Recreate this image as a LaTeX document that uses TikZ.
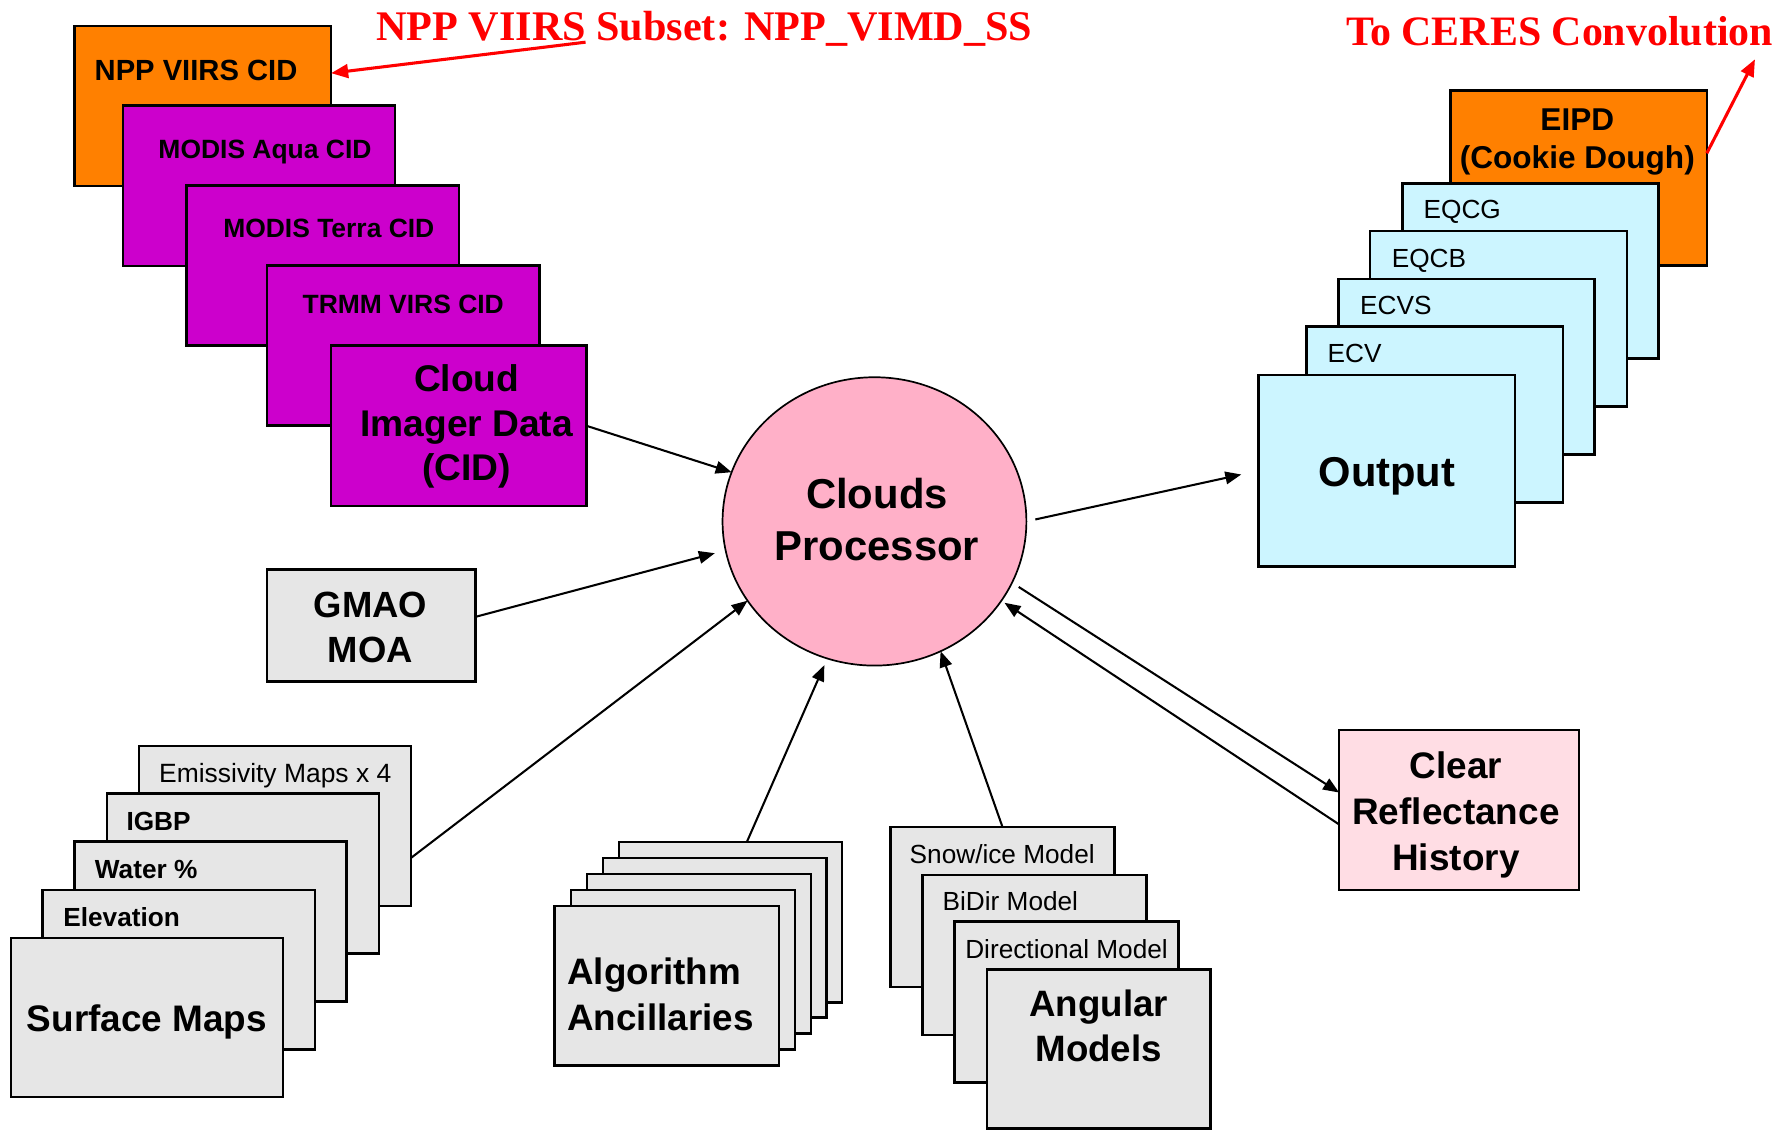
\documentclass[tikz,border=0pt]{standalone}
\usepackage{fontspec}
\setmainfont{Liberation Sans}
\newfontfamily\redserif{Liberation Serif}
\usetikzlibrary{arrows.meta,shapes.geometric}
\definecolor{cOrange}{HTML}{FF8000}
\definecolor{cMagenta}{HTML}{CC00CC}
\definecolor{cGrey}{HTML}{E6E6E6}
\definecolor{cCyan}{HTML}{CCF5FF}
\definecolor{cPink}{HTML}{FFB0C8}
\definecolor{cLightPink}{HTML}{FFDDE4}
\newcommand\fsz[2]{\fontsize{#1}{#2}\selectfont}
\newcommand\boxnode[6]{\node[box, fill=#2, minimum width=#5pt, minimum height=#6pt] (#1) at (#3,#4) {};}
\begin{document}
\begin{tikzpicture}[x=1pt, y=-1pt,
  box/.style={draw, line width=2.2pt, inner sep=0pt, outer sep=0pt, anchor=north west},
  small/.style={inner sep=0pt, anchor=base west, font=\fsz{23}{27.6}},
  smallbold/.style={inner sep=0pt, anchor=base west, font=\fsz{23}{27.6}\bfseries},
  cidlbl/.style={inner sep=0pt, anchor=base, font=\fsz{23.2}{28}\bfseries},
  biglbl/.style={inner sep=0pt, align=center, font=\bfseries},
  redlbl/.style={inner sep=0pt, anchor=base west, text=red, font=\redserif\fsz{37}{44}\bfseries},
  arr/.style={-{Triangle[length=14pt,width=11pt]}, line width=1.8pt},
  redarr/.style={-{Triangle[length=15pt,width=12pt]}, line width=2.7pt, red}
]
\useasboundingbox (0,0) rectangle (1568,991.5);

% ---- CID stack ----
\boxnode{npp}{cOrange}{65.5}{22.6}{225}{140.7}
\node[cidlbl, font=\fsz{25.6}{30}\bfseries] (nppT) at (172,70.2) {NPP VIIRS CID};
\boxnode{aqua}{cMagenta}{107.8}{92.7}{238.7}{140.7}
\node[cidlbl] (aquaT) at (232.5,138.8) {MODIS Aqua CID};
\boxnode{terra}{cMagenta}{163.7}{162.9}{239.2}{140.4}
\node[cidlbl] (terraT) at (288.5,208.8) {MODIS Terra CID};
\boxnode{trmm}{cMagenta}{234.2}{233.1}{239.2}{140.4}
\node[cidlbl] (trmmT) at (353.8,275.3) {TRMM VIRS CID};
\boxnode{cid}{cMagenta}{290.6}{303.3}{224.1}{140.7}
\node[biglbl, font=\fsz{32.6}{39}\bfseries] (cidT) at (409.5,374.2) {Cloud\\Imager Data\\(CID)};

% ---- GMAO ----
\boxnode{gmao}{cGrey}{234.2}{499.8}{182.8}{98.2}
\node[biglbl, font=\fsz{32}{39.2}\bfseries] (gmaoT) at (325,550.7) {GMAO\\MOA};

% ---- Surface maps stack ----
\boxnode{emis}{cGrey}{121.9}{654.7}{238.7}{140.3}
\node[small, font=\fsz{23.2}{27.6}] (emisT) at (139.5,686.5) {Emissivity Maps x 4};
\boxnode{igbp}{cGrey}{93.7}{696.4}{238.7}{140.4}
\node[smallbold] (igbpT) at (110.8,728.6) {IGBP};
\boxnode{water}{cGrey}{65.5}{738.4}{238.7}{140.4}
\node[smallbold] (waterT) at (83.1,770.6) {Water \%};
\boxnode{elev}{cGrey}{37.3}{780.9}{239.2}{140}
\node[smallbold] (elevT) at (55.4,812.6) {Elevation};
\boxnode{surf}{cGrey}{9.6}{823}{238.7}{139.7}
\node[inner sep=0pt, anchor=base, font=\fsz{32.4}{39}\bfseries] (surfT) at (129,905) {Surface Maps};

% ---- Algorithm ancillaries stack ----
\boxnode{alg4}{cGrey}{543}{738.6}{196}{141}
\boxnode{alg3}{cGrey}{529}{753}{196.2}{139.6}
\boxnode{alg2}{cGrey}{515}{767}{196.7}{140}
\boxnode{alg1}{cGrey}{501}{781}{196.6}{140}
\boxnode{alg0}{cGrey}{486.6}{795}{196.9}{140}
\node[inner sep=0pt, anchor=west, align=left, font=\fsz{32.3}{40.2}\bfseries] (algT) at (497.6,872.8) {Algorithm\\Ancillaries};

% ---- Angular models stack ----
\boxnode{snow}{cGrey}{781.3}{725.7}{196.7}{140.3}
\node[small] (snowT) at (798,757.8) {Snow/ice Model};
\boxnode{bidir}{cGrey}{809.6}{767.8}{196.6}{140.4}
\node[small] (bidirT) at (826.9,799.2) {BiDir Model};
\boxnode{dirm}{cGrey}{837.4}{808.6}{196.6}{141}
\node[small] (dirmT) at (846.8,840.8) {Directional Model};
\boxnode{ang}{cGrey}{866.2}{850.7}{196.1}{139.3}
\node[biglbl, font=\fsz{32.2}{39.6}\bfseries] (angT) at (964,900) {Angular\\Models};

% ---- Clear reflectance history ----
\boxnode{clear}{cLightPink}{1175}{640.5}{210.6}{140.5}
\node[biglbl, font=\fsz{32.4}{40.25}\bfseries] (clearT) at (1277.5,715) {Clear\\Reflectance\\History};

% ---- Output stack ----
\boxnode{eipd}{cOrange}{1272.6}{79.2}{225}{153.8}
\node[biglbl, font=\fsz{27.7}{33.3}\bfseries] (eipdT) at (1384,124.6) {EIPD\\(Cookie Dough)};
\boxnode{eqcg}{cCyan}{1230.4}{160.8}{225}{153.8}
\node[small] (eqcgT) at (1249,192.1) {EQCG};
\boxnode{eqcb}{cCyan}{1202.3}{202.6}{225.2}{154}
\node[small] (eqcbT) at (1221,234.5) {EQCB};
\boxnode{ecvs}{cCyan}{1174.6}{244.7}{224.4}{154.2}
\node[small] (ecvsT) at (1193.3,276.3) {ECVS};
\boxnode{ecv}{cCyan}{1146.2}{286.6}{225.1}{154.4}
\node[small] (ecvT) at (1164.7,318.1) {ECV};
\boxnode{output}{cCyan}{1104.4}{329}{225}{168}
\node[inner sep=0pt, anchor=base, font=\fsz{36.6}{44}\bfseries] (outputT) at (1217,427.1) {Output};

% ---- Clouds processor ----
\node[ellipse, draw, fill=cPink, line width=1.5pt, inner sep=0pt, outer sep=0pt,
      minimum width=266.6pt, minimum height=253pt] (cp) at (767.3,457.5) {};
\node[biglbl, font=\fsz{36.7}{46}\bfseries] (cpT) at (769.5,455.8) {Clouds\\Processor};

% ---- Red annotations ----
\node[redlbl] (nppss) at (330,35.1) {NPP VIIRS Subset: NPP\_VIMD\_SS};
\node[redlbl, font=\redserif\fsz{36.75}{44}\bfseries] (ceresT) at (1181,39.6) {To CERES Convolution};
\coordinate (nppsrc) at (513.8,37);
\coordinate (ceres) at (1539.9,52);

% ---- Connectors ----
\draw[arr] (cid.east) -- (cp.161.55);
\draw[arr, shorten >=9.8pt] ([yshift=7.6pt]gmao.east) -- (cp.191.3);
\draw[arr] ([yshift=-27.95pt]emis.east) -- (cp.212.4);
\draw[arr, shorten >=6.4pt] ([xshift=14.4pt]alg4.north) -- (cp.251.6);
\draw[arr] (snow.north) -- (cp.297.5);
\draw[arr, shorten <=8pt, shorten >=15.6pt] (cp.east) -- (output.west);
\draw[arr, shorten <=7pt] (cp.336.3) -- ([yshift=15.35pt]clear.west);
\draw[arr, shorten >=3.3pt] ([yshift=-12.65pt]clear.west) -- (cp.328.1);
\draw[redarr] (nppsrc) -- ([yshift=28.75pt]npp.east);
\draw[redarr] ([yshift=21.6pt]eipd.east) -- (ceres);
\end{tikzpicture}
\end{document}
